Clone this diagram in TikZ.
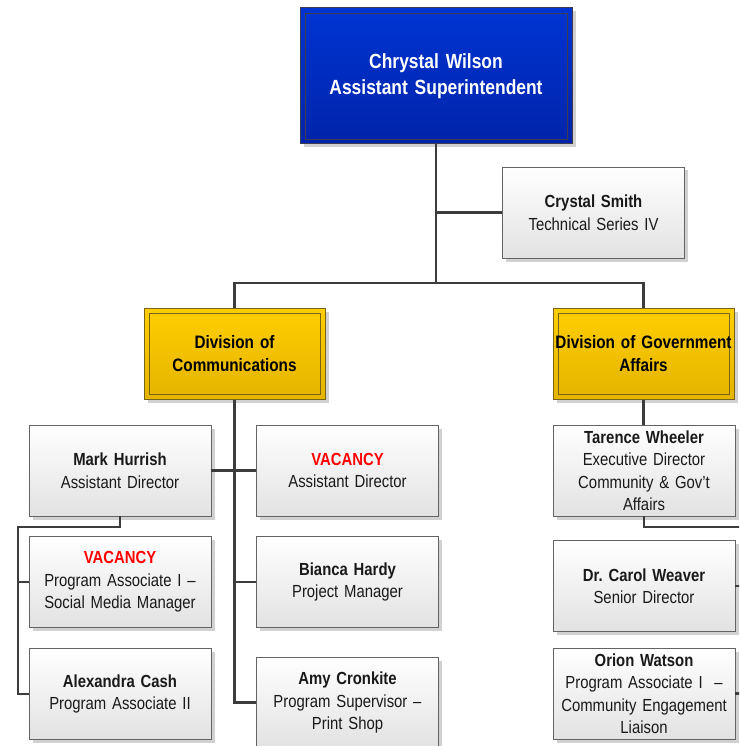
\documentclass[tikz,border=0pt]{standalone}
\usepackage{fontspec}
\setmainfont[FakeStretch=0.85,WordSpace=0.8]{Liberation Sans}
\usetikzlibrary{shadows}
\definecolor{linec}{RGB}{60,60,60}
\definecolor{cardbot}{RGB}{226,226,226}
\definecolor{cardedge}{RGB}{100,100,100}
\definecolor{bluetop}{RGB}{0,52,210}
\definecolor{bluebot}{RGB}{0,36,170}
\definecolor{blueedge}{RGB}{60,60,80}
\definecolor{yeltop}{RGB}{255,206,0}
\definecolor{yelbot}{RGB}{228,180,0}
\definecolor{yeledge}{RGB}{120,100,20}
\definecolor{vacred}{RGB}{255,0,0}
\frenchspacing
\begin{document}
\begin{tikzpicture}[x=1pt,y=-1pt,
  shad/.style={drop shadow={shadow xshift=3.5pt,shadow yshift=-3.5pt,fill=black,opacity=0.18}},
  innerframe/.style={path picture={\draw[#1,line width=0.8pt]
     ([shift={(5pt,5pt)}]path picture bounding box.south west) rectangle
     ([shift={(-5pt,-5pt)}]path picture bounding box.north east);}},
  card/.style={shad,draw=cardedge,line width=0.9pt,top color=white,bottom color=cardbot,
     minimum width=182pt,minimum height=91pt,text width=178pt,inner xsep=2pt,inner ysep=0pt,
     align=center,text=black!90,font=\fontsize{17.5}{22.5}\selectfont},
  headbox/.style={shad,draw=blueedge,line width=1pt,top color=bluetop,bottom color=bluebot,
     innerframe=blueedge,minimum width=272pt,minimum height=136pt,text width=268pt,inner xsep=2pt,
     align=center,text=white,font=\bfseries\fontsize{20.5}{26}\selectfont},
  divbox/.style={shad,draw=yeledge,line width=1pt,top color=yeltop,bottom color=yelbot,
     innerframe=yeledge,minimum width=181pt,minimum height=91pt,text width=179pt,inner xsep=1pt,
     align=center,text=black,font=\bfseries\fontsize{18}{22.5}\selectfont},
  conn/.style={draw=linec,line width=2.8pt},
  vac/.style={text=vacred,font=\bfseries}
]
\useasboundingbox (0,0) rectangle (739,746);
\clip (0,0) rectangle (739,746);

\node[headbox] (top) at (436,76) {Chrystal Wilson\\Assistant Superintendent};
\node[card] (smith) at (593.5,212.5) {\textbf{Crystal Smith}\\Technical Series IV};
\node[divbox] (divL) at (234.5,353.5) {Division of\\Communications};
\node[divbox] (divR) at (643.5,353.5) {Division of Government\\Affairs};

\node[card] (mark) at (120,470.5) {\textbf{Mark Hurrish}\\Assistant Director};
\node[card] (vacAD) at (347.5,470.5) {{\color{vacred}\bfseries VACANCY}\\Assistant Director};
\node[card] (vacPA) at (120,582) {{\color{vacred}\bfseries VACANCY}\\Program Associate I –\\Social Media Manager};
\node[card] (bianca) at (347.5,582) {\textbf{Bianca Hardy}\\Project Manager};
\node[card] (alex) at (120,694) {\textbf{Alexandra Cash}\\Program Associate II};
\node[card] (amy) at (347.5,702.5) {\textbf{Amy Cronkite}\\Program Supervisor –\\Print Shop};

\node[card] (tar) at (644,470.5) {\textbf{Tarence Wheeler}\\Executive Director\\Community \& Gov’t\\Affairs};
\node[card] (carol) at (644,586) {\textbf{Dr. Carol Weaver}\\Senior Director};
\node[card] (orion) at (644,693.5) {\textbf{Orion Watson}\\Program Associate I~ –\\Community Engagement\\Liaison};

\coordinate (j1) at (436,283);
\coordinate (mk) at (18,527);
\coordinate (rr) at (742,527);

\draw[conn] (top.south) -- (j1);
\draw[conn] (top.south |- smith.west) -- (smith.west);
\draw[conn] (divL.north) -- (divL.north |- j1) -- (divR.north |- j1) -- (divR.north);

\draw[conn] (divL.south) -- (divL.south |- amy.west) -- (amy.west);
\draw[conn] (mark.east) -- (vacAD.west);
\draw[conn] (divL.south |- bianca.west) -- (bianca.west);

\draw[conn] (mark.south) -- (mark.south |- mk) -- (mk) -- (mk |- alex.west) -- (alex.west);
\draw[conn] (mk |- vacPA.west) -- (vacPA.west);

\draw[conn] (divR.south) -- (divR.south |- tar.north);
\draw[conn] (tar.south) -- (tar.south |- rr) -- (rr);
\draw[conn] (carol.east) -- (carol.east -| rr);
\draw[conn] (orion.east) -- (orion.east -| rr);
\end{tikzpicture}
\end{document}
